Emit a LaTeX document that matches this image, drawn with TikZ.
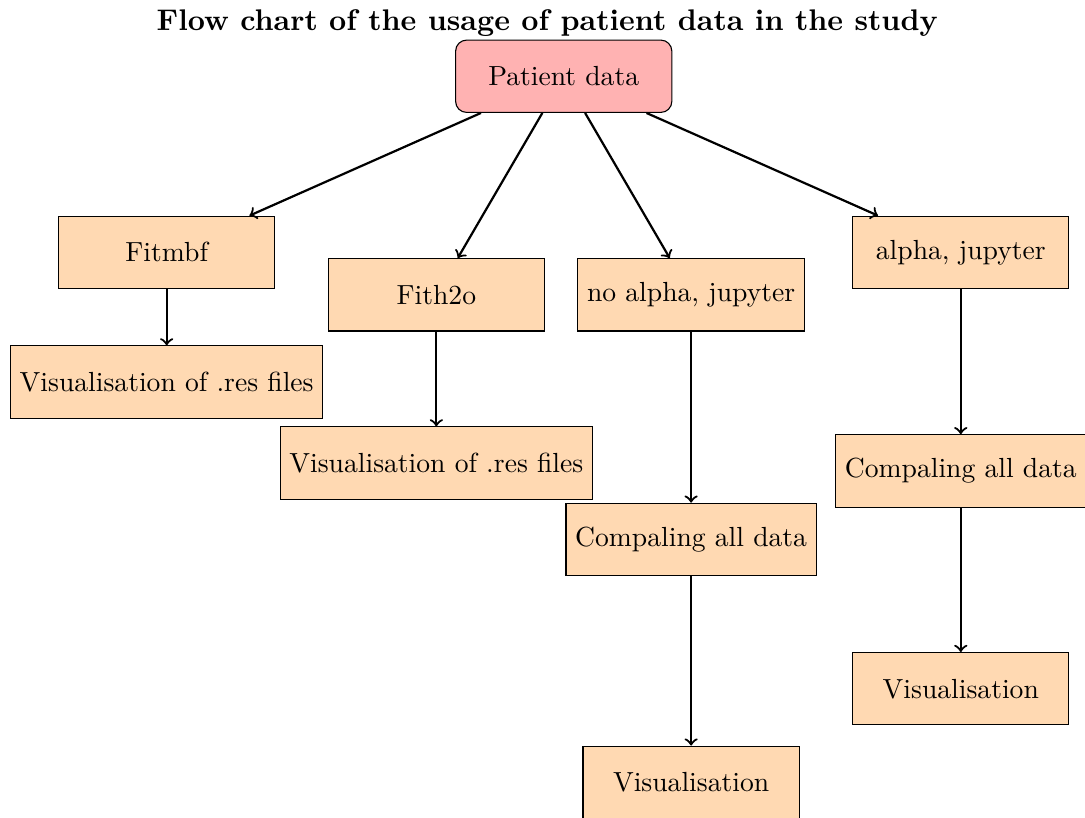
\documentclass[tikz,border=0pt]{standalone}
\usetikzlibrary{positioning}
\tikzset{%
  databox/.style={draw, fill=orange!30, minimum width=2.75cm, minimum height=0.92cm},%
  rootbox/.style={databox, fill=red!30, rounded corners},%
  flow/.style={->, thick}%
}

\begin{document}
\begin{tikzpicture}
  \useasboundingbox (0,0) rectangle (13.80,-10.40);%
  \def\colA{2.12}%
  \def\colB{5.55}%
  \def\colC{8.79}%
  \def\colD{12.22}%
  \def\rowA{-3.21}%
  \def\rowB{-3.75}%

  % Coordinates
  \coordinate (T) at (6.96,-0.29);%
  \coordinate (P) at (7.17,-0.97);%
  \coordinate (F1) at (\colA,\rowA);%
  \coordinate (F2) at (\colB,\rowB);%
  \coordinate (J1) at (\colC,\rowB);%
  \coordinate (J2) at (\colD,\rowA);%

  % Nodes
  \node[font=\fontsize{10.8}{13}\selectfont\bfseries] (title) at (T) {Flow chart of the usage of patient data in the study};%
  \node[rootbox] (patient) at (P) {Patient data};%
  \node[databox] (fitmbf) at (F1) {Fitmbf};%
  \node[databox] (fitvis) at (\colA,-4.86) {Visualisation of .res files};%
  \node[databox] (fith2o) at (F2) {Fith2o};%
  \node[databox] (h2ovis) at (\colB,-5.89) {Visualisation of .res files};%
  \node[databox] (noalpha) at (J1) {no alpha, jupyter};%
  \node[databox] (nacomp) at (\colC,-6.86) {Compaling all data};%
  \node[databox] (navis) at (\colC,-9.95) {Visualisation};%
  \node[databox] (alpha) at (J2) {alpha, jupyter};%
  \node[databox] (acomp) at (\colD,-5.99) {Compaling all data};%
  \node[databox] (avis) at (\colD,-8.76) {Visualisation};%

  % Lines
  \draw[flow] (patient) -- (fitmbf);%
  \draw[flow] (patient) -- (fith2o);%
  \draw[flow] (patient) -- (noalpha);%
  \draw[flow] (patient) -- (alpha);%
  \draw[flow] (fitmbf) -- (fitvis);%
  \draw[flow] (fith2o) -- (h2ovis);%
  \draw[flow] (noalpha) -- (nacomp);%
  \draw[flow] (nacomp) -- (navis);%
  \draw[flow] (alpha) -- (acomp);%
  \draw[flow] (acomp) -- (avis);%
\end{tikzpicture}
\end{document}
